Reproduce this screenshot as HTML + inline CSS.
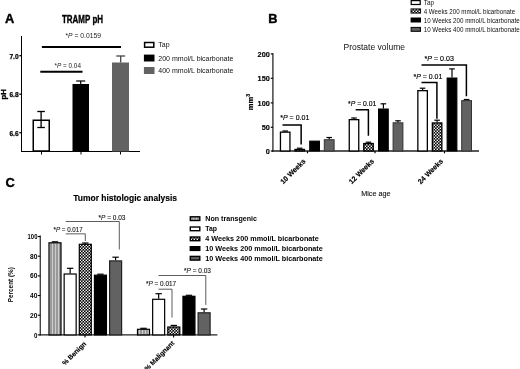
<!DOCTYPE html>
<html lang="en"><head><meta charset="utf-8"><title>Figure</title>
<style>html,body{margin:0;padding:0;background:#fff;}svg{display:block;}text{font-family:'Liberation Sans', Arial, sans-serif;}</style>
</head><body>
<svg width="520" height="369" viewBox="0 0 520 369">
<defs>
<pattern id="chk" width="3" height="3" patternUnits="userSpaceOnUse"><rect width="3" height="3" fill="#000"/><rect x="0.1" y="0.1" width="1.4" height="1.4" fill="#fff"/><rect x="1.6" y="1.6" width="1.4" height="1.4" fill="#fff"/></pattern>
<pattern id="vst" width="3" height="4" patternUnits="userSpaceOnUse"><rect width="3" height="4" fill="#999"/><rect x="1" y="0" width="1" height="4" fill="#ccc"/></pattern>
</defs>
<rect width="520" height="369" fill="#fff"/>
<text x="5" y="23.2" font-size="12.8" font-weight="bold" text-anchor="start" fill="#000" stroke="#000" stroke-width="0.4">A</text>
<text x="62" y="22.5" font-size="10.3" font-weight="bold" text-anchor="start" fill="#000" textLength="41" lengthAdjust="spacingAndGlyphs" stroke="#000" stroke-width="0.35">TRAMP pH</text>
<line x1="21.5" y1="36" x2="21.5" y2="152" stroke="#000" stroke-width="1"/>
<line x1="21" y1="151.5" x2="140" y2="151.5" stroke="#000" stroke-width="1.2"/>
<line x1="19.3" y1="55.7" x2="21.5" y2="55.7" stroke="#000" stroke-width="1.3"/>
<text x="18.6" y="58.6" font-size="7.8" font-weight="bold" text-anchor="end" fill="#000" textLength="9.2" lengthAdjust="spacingAndGlyphs" stroke="#000" stroke-width="0.25">7.0</text>
<line x1="19.3" y1="94.2" x2="21.5" y2="94.2" stroke="#000" stroke-width="1.3"/>
<text x="18.6" y="97.1" font-size="7.8" font-weight="bold" text-anchor="end" fill="#000" textLength="9.2" lengthAdjust="spacingAndGlyphs" stroke="#000" stroke-width="0.25">6.8</text>
<line x1="19.3" y1="132.7" x2="21.5" y2="132.7" stroke="#000" stroke-width="1.3"/>
<text x="18.6" y="135.6" font-size="7.8" font-weight="bold" text-anchor="end" fill="#000" textLength="9.2" lengthAdjust="spacingAndGlyphs" stroke="#000" stroke-width="0.25">6.6</text>
<line x1="41.5" y1="151.5" x2="41.5" y2="154.5" stroke="#000" stroke-width="1"/>
<line x1="81.0" y1="151.5" x2="81.0" y2="154.5" stroke="#000" stroke-width="1"/>
<line x1="120.5" y1="151.5" x2="120.5" y2="154.5" stroke="#000" stroke-width="1"/>
<text x="6" y="94.2" font-size="6.8" font-weight="bold" text-anchor="middle" fill="#000" textLength="10.4" lengthAdjust="spacingAndGlyphs" transform="rotate(-90 6 94.2)" stroke="#000" stroke-width="0.3">pH</text>
<rect x="33.25" y="120.25" width="16.0" height="30.75" fill="#fff" stroke="#000" stroke-width="1.5"/>
<line x1="41.1" y1="111.5" x2="41.1" y2="127.5" stroke="#000" stroke-width="1.3"/>
<line x1="37.300000000000004" y1="111.5" x2="44.9" y2="111.5" stroke="#000" stroke-width="1.3"/>
<line x1="37.300000000000004" y1="127.5" x2="44.9" y2="127.5" stroke="#000" stroke-width="1.3"/>
<rect x="73.0" y="84.5" width="15.5" height="66.5" fill="#000" stroke="#000" stroke-width="1"/>
<line x1="80.7" y1="81" x2="80.7" y2="84" stroke="#000" stroke-width="1.2"/>
<line x1="76.2" y1="81" x2="85.2" y2="81" stroke="#000" stroke-width="1.2"/>
<rect x="112.5" y="63.0" width="16" height="88.0" fill="#626262" stroke="#626262" stroke-width="1"/>
<g opacity="1">
<line x1="120.7" y1="56" x2="120.7" y2="62.5" stroke="#444" stroke-width="1.3"/>
<line x1="116.3" y1="56" x2="125.1" y2="56" stroke="#444" stroke-width="1.3"/>
</g>
<line x1="41.9" y1="46.9" x2="121" y2="46.9" stroke="#000" stroke-width="2"/>
<line x1="40.3" y1="71.7" x2="82.5" y2="71.7" stroke="#000" stroke-width="2"/>
<text x="65.5" y="38" font-size="6.3" fill="#222" textLength="35.5" lengthAdjust="spacingAndGlyphs">*<tspan font-style="italic">P</tspan> = 0.0159</text>
<text x="54.5" y="67.8" font-size="6.3" fill="#222" textLength="26.5" lengthAdjust="spacingAndGlyphs">*<tspan font-style="italic">P</tspan> = 0.04</text>
<rect x="144.6" y="42.5" width="9.2" height="4.7" fill="#fff" stroke="#000" stroke-width="1.5"/>
<rect x="143.9" y="54.6" width="10.6" height="6.9" fill="#000" stroke="#000" stroke-width="0"/>
<rect x="143.9" y="67" width="10.6" height="7" fill="#626262" stroke="#626262" stroke-width="0"/>
<text x="158.3" y="47.3" font-size="7" font-weight="normal" text-anchor="start" fill="#111" >Tap</text>
<text x="158.3" y="60.6" font-size="7" font-weight="normal" text-anchor="start" fill="#111" textLength="75" lengthAdjust="spacingAndGlyphs" >200 mmol/L bicarbonate</text>
<text x="158.3" y="73.2" font-size="7" font-weight="normal" text-anchor="start" fill="#111" textLength="75" lengthAdjust="spacingAndGlyphs" >400 mmol/L bicarbonate</text>
<text x="268.3" y="23.2" font-size="12.8" font-weight="bold" text-anchor="start" fill="#000" stroke="#000" stroke-width="0.4">B</text>
<text x="343.5" y="49.6" font-size="8.5" font-weight="normal" text-anchor="start" fill="#111" textLength="61.5" lengthAdjust="spacingAndGlyphs" >Prostate volume</text>
<line x1="272.9" y1="53.3" x2="272.9" y2="151.8" stroke="#444" stroke-width="1.5"/>
<line x1="272.2" y1="151" x2="479" y2="151" stroke="#222" stroke-width="1.5"/>
<line x1="270.8" y1="53.9" x2="272.9" y2="53.9" stroke="#000" stroke-width="1.2"/>
<text x="269.8" y="56.8" font-size="7.3" font-weight="bold" text-anchor="end" fill="#000" stroke="#000" stroke-width="0.15">200</text>
<line x1="270.8" y1="78.3" x2="272.9" y2="78.3" stroke="#000" stroke-width="1.2"/>
<text x="269.8" y="81.2" font-size="7.3" font-weight="bold" text-anchor="end" fill="#000" stroke="#000" stroke-width="0.15">150</text>
<line x1="270.8" y1="102.9" x2="272.9" y2="102.9" stroke="#000" stroke-width="1.2"/>
<text x="269.8" y="105.80000000000001" font-size="7.3" font-weight="bold" text-anchor="end" fill="#000" stroke="#000" stroke-width="0.15">100</text>
<line x1="270.8" y1="127.3" x2="272.9" y2="127.3" stroke="#000" stroke-width="1.2"/>
<text x="269.8" y="130.2" font-size="7.3" font-weight="bold" text-anchor="end" fill="#000" stroke="#000" stroke-width="0.15">50</text>
<line x1="270.8" y1="151" x2="272.9" y2="151" stroke="#000" stroke-width="1.2"/>
<text x="269.8" y="153.9" font-size="7.3" font-weight="bold" text-anchor="end" fill="#000" stroke="#000" stroke-width="0.15">0</text>
<text x="253" y="110.2" font-size="7.4" font-weight="bold" fill="#000" stroke="#000" stroke-width="0.2" transform="rotate(-90 253 110.2)" textLength="16.2" lengthAdjust="spacingAndGlyphs">mm<tspan font-size="5" dy="-2.8">3</tspan></text>
<line x1="307.5" y1="151" x2="307.5" y2="153.3" stroke="#000" stroke-width="1.2"/>
<line x1="375" y1="151" x2="375" y2="153.3" stroke="#000" stroke-width="1.2"/>
<line x1="444.5" y1="151" x2="444.5" y2="153.3" stroke="#000" stroke-width="1.2"/>
<rect x="280.45" y="132.15" width="9.50000000000001" height="18.85" fill="#fff" stroke="#000" stroke-width="1.3"/>
<line x1="285.2" y1="131" x2="285.2" y2="131.5" stroke="#000" stroke-width="1.2"/>
<line x1="282.4" y1="131" x2="288.0" y2="131" stroke="#000" stroke-width="1.2"/>
<rect x="294.95" y="149.45000000000002" width="9.50000000000001" height="1.5499999999999887" fill="url(#chk)" stroke="#000" stroke-width="1.3"/>
<line x1="299.7" y1="148.2" x2="299.7" y2="148.8" stroke="#000" stroke-width="1.2"/>
<line x1="296.9" y1="148.2" x2="302.5" y2="148.2" stroke="#000" stroke-width="1.2"/>
<rect x="309.7" y="141.1" width="9.800000000000011" height="9.900000000000006" fill="#000" stroke="#000" stroke-width="1"/>
<rect x="324.3" y="139.7" width="9.800000000000011" height="11.300000000000011" fill="#626262" stroke="#333" stroke-width="1"/>
<line x1="329.2" y1="137.5" x2="329.2" y2="139.2" stroke="#000" stroke-width="1.2"/>
<line x1="326.4" y1="137.5" x2="332.0" y2="137.5" stroke="#000" stroke-width="1.2"/>
<rect x="349.25" y="119.65" width="9.50000000000001" height="31.35" fill="#fff" stroke="#000" stroke-width="1.3"/>
<line x1="354.0" y1="118" x2="354.0" y2="119" stroke="#000" stroke-width="1.2"/>
<line x1="351.2" y1="118" x2="356.8" y2="118" stroke="#000" stroke-width="1.2"/>
<rect x="363.75" y="143.55" width="9.50000000000001" height="7.449999999999994" fill="url(#chk)" stroke="#000" stroke-width="1.3"/>
<line x1="368.5" y1="142.2" x2="368.5" y2="142.9" stroke="#000" stroke-width="1.2"/>
<line x1="365.7" y1="142.2" x2="371.3" y2="142.2" stroke="#000" stroke-width="1.2"/>
<rect x="378.5" y="109.0" width="9.800000000000011" height="42.0" fill="#000" stroke="#000" stroke-width="1"/>
<line x1="383.4" y1="103.8" x2="383.4" y2="108.5" stroke="#000" stroke-width="1.2"/>
<line x1="380.59999999999997" y1="103.8" x2="386.2" y2="103.8" stroke="#000" stroke-width="1.2"/>
<rect x="393.1" y="122.8" width="9.800000000000011" height="28.200000000000003" fill="#626262" stroke="#333" stroke-width="1"/>
<line x1="398.0" y1="120.8" x2="398.0" y2="122.3" stroke="#000" stroke-width="1.2"/>
<line x1="395.2" y1="120.8" x2="400.8" y2="120.8" stroke="#000" stroke-width="1.2"/>
<rect x="417.84999999999997" y="90.65" width="9.50000000000001" height="60.35" fill="#fff" stroke="#000" stroke-width="1.3"/>
<line x1="422.59999999999997" y1="88.2" x2="422.59999999999997" y2="90" stroke="#000" stroke-width="1.2"/>
<line x1="419.79999999999995" y1="88.2" x2="425.4" y2="88.2" stroke="#000" stroke-width="1.2"/>
<rect x="432.34999999999997" y="122.95" width="9.50000000000001" height="28.050000000000004" fill="url(#chk)" stroke="#000" stroke-width="1.3"/>
<line x1="437.09999999999997" y1="120.2" x2="437.09999999999997" y2="122.3" stroke="#000" stroke-width="1.2"/>
<line x1="434.29999999999995" y1="120.2" x2="439.9" y2="120.2" stroke="#000" stroke-width="1.2"/>
<rect x="447.09999999999997" y="78.0" width="9.800000000000011" height="73.0" fill="#000" stroke="#000" stroke-width="1"/>
<line x1="451.99999999999994" y1="68.9" x2="451.99999999999994" y2="77.5" stroke="#000" stroke-width="1.2"/>
<line x1="449.19999999999993" y1="68.9" x2="454.79999999999995" y2="68.9" stroke="#000" stroke-width="1.2"/>
<rect x="461.7" y="100.6" width="9.800000000000011" height="50.400000000000006" fill="#626262" stroke="#333" stroke-width="1"/>
<line x1="466.59999999999997" y1="99.5" x2="466.59999999999997" y2="100.1" stroke="#000" stroke-width="1.2"/>
<line x1="463.79999999999995" y1="99.5" x2="469.4" y2="99.5" stroke="#000" stroke-width="1.2"/>
<polyline points="282.5,124.9 282.5,124.9 301.15,124.9 301.15,144.5" fill="none" stroke="#000" stroke-width="1.5" stroke-linejoin="miter"/>
<text x="280.2" y="120.4" font-size="7.3" fill="#000" stroke="#000" stroke-width="0.15" textLength="29.2" lengthAdjust="spacingAndGlyphs">*<tspan font-style="italic">P</tspan> = 0.01</text>
<polyline points="355.7,109.8 355.7,109.8 368.4,109.8 368.4,135.8" fill="none" stroke="#000" stroke-width="1.5" stroke-linejoin="miter"/>
<text x="348.1" y="105.9" font-size="7.3" fill="#000" stroke="#000" stroke-width="0.15" textLength="28.2" lengthAdjust="spacingAndGlyphs">*<tspan font-style="italic">P</tspan> = 0.01</text>
<polyline points="421.5,82.5 421.5,82.5 436.9,82.5 436.9,118.7" fill="none" stroke="#000" stroke-width="1.5" stroke-linejoin="miter"/>
<text x="413.5" y="78.5" font-size="7.3" fill="#000" stroke="#000" stroke-width="0.15" textLength="28.8" lengthAdjust="spacingAndGlyphs">*<tspan font-style="italic">P</tspan> = 0.01</text>
<polyline points="421.5,65.1 421.5,65.1 466.4,65.1 466.4,96.3" fill="none" stroke="#000" stroke-width="1.5" stroke-linejoin="miter"/>
<text x="424.6" y="60.6" font-size="7.3" fill="#000" stroke="#000" stroke-width="0.15" textLength="29.3" lengthAdjust="spacingAndGlyphs">*<tspan font-style="italic">P</tspan> = 0.03</text>
<text x="306" y="161.8" font-size="7.1" font-weight="bold" text-anchor="end" fill="#000" transform="rotate(-45 306 161.8)" stroke="#000" stroke-width="0.15">10 Weeks</text>
<text x="374.5" y="161.8" font-size="7.1" font-weight="bold" text-anchor="end" fill="#000" transform="rotate(-45 374.5 161.8)" stroke="#000" stroke-width="0.15">12 Weeks</text>
<text x="443.5" y="161.8" font-size="7.1" font-weight="bold" text-anchor="end" fill="#000" transform="rotate(-45 443.5 161.8)" stroke="#000" stroke-width="0.15">24 Weeks</text>
<text x="361.2" y="195.8" font-size="7.4" font-weight="normal" text-anchor="start" fill="#111" textLength="29.3" lengthAdjust="spacingAndGlyphs" stroke="#111" stroke-width="0.12">Mice age</text>
<rect x="411.20000000000005" y="0.6" width="9" height="3.9" fill="#fff" stroke="#000" stroke-width="1.2"/>
<rect x="411.0" y="8.9" width="9.6" height="4.2" fill="url(#chk)" stroke="#000" stroke-width="0.9"/>
<rect x="410.6" y="17.5" width="10.4" height="5" fill="#000" stroke="#000" stroke-width="0"/>
<rect x="411.20000000000005" y="27.5" width="9.2" height="3.8" fill="#626262" stroke="#111" stroke-width="1.2"/>
<text x="423.7" y="5.1" font-size="6.4" font-weight="normal" text-anchor="start" fill="#111" >Tap</text>
<text x="423.7" y="13.6" font-size="6.4" font-weight="normal" text-anchor="start" fill="#111" textLength="91.5" lengthAdjust="spacingAndGlyphs" >4 Weeks 200 mmol/L bicarbonate</text>
<text x="423.7" y="22.5" font-size="6.4" font-weight="normal" text-anchor="start" fill="#111" textLength="96" lengthAdjust="spacingAndGlyphs" >10 Weeks 200 mmol/L bicarbonate</text>
<text x="423.7" y="31.7" font-size="6.4" font-weight="normal" text-anchor="start" fill="#111" textLength="96" lengthAdjust="spacingAndGlyphs" >10 Weeks 400 mmol/L bicarbonate</text>
<text x="5.6" y="186.7" font-size="12.8" font-weight="bold" text-anchor="start" fill="#000" stroke="#000" stroke-width="0.4">C</text>
<text x="73.3" y="201.3" font-size="8.2" font-weight="bold" text-anchor="start" fill="#000" textLength="103.7" lengthAdjust="spacingAndGlyphs" stroke="#000" stroke-width="0.15">Tumor histologic analysis</text>
<line x1="40.3" y1="235.6" x2="40.3" y2="335.5" stroke="#444" stroke-width="1.4"/>
<line x1="39.6" y1="334.9" x2="217.4" y2="334.9" stroke="#222" stroke-width="1.4"/>
<line x1="37.8" y1="334.9" x2="40.3" y2="334.9" stroke="#000" stroke-width="1.1"/>
<text x="37.4" y="337.5" font-size="6.9" font-weight="bold" text-anchor="end" fill="#000" textLength="3.4" lengthAdjust="spacingAndGlyphs" >0</text>
<line x1="37.8" y1="315.21999999999997" x2="40.3" y2="315.21999999999997" stroke="#000" stroke-width="1.1"/>
<text x="37.4" y="317.82" font-size="6.9" font-weight="bold" text-anchor="end" fill="#000" textLength="7.4" lengthAdjust="spacingAndGlyphs" >20</text>
<line x1="37.8" y1="295.53999999999996" x2="40.3" y2="295.53999999999996" stroke="#000" stroke-width="1.1"/>
<text x="37.4" y="298.14" font-size="6.9" font-weight="bold" text-anchor="end" fill="#000" textLength="7.4" lengthAdjust="spacingAndGlyphs" >40</text>
<line x1="37.8" y1="275.85999999999996" x2="40.3" y2="275.85999999999996" stroke="#000" stroke-width="1.1"/>
<text x="37.4" y="278.46" font-size="6.9" font-weight="bold" text-anchor="end" fill="#000" textLength="7.4" lengthAdjust="spacingAndGlyphs" >60</text>
<line x1="37.8" y1="256.17999999999995" x2="40.3" y2="256.17999999999995" stroke="#000" stroke-width="1.1"/>
<text x="37.4" y="258.78" font-size="6.9" font-weight="bold" text-anchor="end" fill="#000" textLength="7.4" lengthAdjust="spacingAndGlyphs" >80</text>
<line x1="37.8" y1="236.49999999999997" x2="40.3" y2="236.49999999999997" stroke="#000" stroke-width="1.1"/>
<text x="37.4" y="239.09999999999997" font-size="6.9" font-weight="bold" text-anchor="end" fill="#000" textLength="9.8" lengthAdjust="spacingAndGlyphs" >100</text>
<text x="13.2" y="284.7" font-size="6.3" font-weight="bold" text-anchor="middle" fill="#000" textLength="35" lengthAdjust="spacingAndGlyphs" transform="rotate(-90 13.2 284.7)" >Percent (%)</text>
<line x1="85" y1="334.9" x2="85" y2="337.4" stroke="#000" stroke-width="1.1"/>
<line x1="173.6" y1="334.9" x2="173.6" y2="337.4" stroke="#000" stroke-width="1.1"/>
<rect x="49.0" y="242.79999999999998" width="11.999999999999996" height="92.1" fill="url(#vst)" stroke="#000" stroke-width="1.2"/>
<line x1="55.0" y1="241.8" x2="55.0" y2="242.2" stroke="#000" stroke-width="1.2"/>
<line x1="51.8" y1="241.8" x2="58.2" y2="241.8" stroke="#000" stroke-width="1.2"/>
<rect x="64.14999999999999" y="274.0" width="12.000000000000004" height="60.9" fill="#fff" stroke="#000" stroke-width="1.2"/>
<line x1="70.14999999999999" y1="268.3" x2="70.14999999999999" y2="273.4" stroke="#000" stroke-width="1.2"/>
<line x1="66.94999999999999" y1="268.3" x2="73.35" y2="268.3" stroke="#000" stroke-width="1.2"/>
<rect x="79.3" y="244.29999999999998" width="12.000000000000004" height="90.6" fill="url(#chk)" stroke="#000" stroke-width="1.2"/>
<line x1="85.3" y1="243" x2="85.3" y2="243.7" stroke="#000" stroke-width="1.2"/>
<line x1="82.1" y1="243" x2="88.5" y2="243" stroke="#000" stroke-width="1.2"/>
<rect x="94.44999999999999" y="275.20000000000005" width="12.000000000000004" height="59.69999999999995" fill="#000" stroke="#000" stroke-width="1.2"/>
<line x1="100.44999999999999" y1="274.2" x2="100.44999999999999" y2="274.6" stroke="#000" stroke-width="1.2"/>
<line x1="97.24999999999999" y1="274.2" x2="103.64999999999999" y2="274.2" stroke="#000" stroke-width="1.2"/>
<rect x="109.6" y="260.90000000000003" width="12.000000000000004" height="73.99999999999997" fill="#626262" stroke="#222" stroke-width="1.2"/>
<line x1="115.6" y1="257.2" x2="115.6" y2="260.3" stroke="#000" stroke-width="1.2"/>
<line x1="112.39999999999999" y1="257.2" x2="118.8" y2="257.2" stroke="#000" stroke-width="1.2"/>
<rect x="137.5" y="329.3" width="11.99999999999999" height="5.599999999999989" fill="url(#vst)" stroke="#000" stroke-width="1.2"/>
<line x1="143.5" y1="328.3" x2="143.5" y2="328.7" stroke="#000" stroke-width="1.2"/>
<line x1="140.3" y1="328.3" x2="146.7" y2="328.3" stroke="#000" stroke-width="1.2"/>
<rect x="152.65" y="299.3" width="11.99999999999999" height="35.59999999999999" fill="#fff" stroke="#000" stroke-width="1.2"/>
<line x1="158.65" y1="293.7" x2="158.65" y2="298.7" stroke="#000" stroke-width="1.2"/>
<line x1="155.45000000000002" y1="293.7" x2="161.85" y2="293.7" stroke="#000" stroke-width="1.2"/>
<rect x="167.8" y="327.0" width="11.99999999999999" height="7.9" fill="url(#chk)" stroke="#000" stroke-width="1.2"/>
<line x1="173.8" y1="325.4" x2="173.8" y2="326.4" stroke="#000" stroke-width="1.2"/>
<line x1="170.60000000000002" y1="325.4" x2="177.0" y2="325.4" stroke="#000" stroke-width="1.2"/>
<rect x="182.95000000000002" y="296.3" width="11.99999999999999" height="38.59999999999999" fill="#000" stroke="#000" stroke-width="1.2"/>
<line x1="188.95000000000002" y1="295.3" x2="188.95000000000002" y2="295.7" stroke="#000" stroke-width="1.2"/>
<line x1="185.75000000000003" y1="295.3" x2="192.15" y2="295.3" stroke="#000" stroke-width="1.2"/>
<rect x="198.1" y="312.8" width="11.99999999999999" height="22.099999999999987" fill="#626262" stroke="#222" stroke-width="1.2"/>
<line x1="204.1" y1="309" x2="204.1" y2="312.2" stroke="#000" stroke-width="1.2"/>
<line x1="200.9" y1="309" x2="207.29999999999998" y2="309" stroke="#000" stroke-width="1.2"/>
<polyline points="65.8,233.85 85.3,233.85 85.3,241" fill="none" stroke="#333" stroke-width="0.8"/>
<polyline points="65.8,221.5 119.3,221.5 119.3,249.5" fill="none" stroke="#333" stroke-width="0.8"/>
<text x="53.5" y="232" font-size="6.6" fill="#111" stroke="#111" stroke-width="0.1" textLength="29.2" lengthAdjust="spacingAndGlyphs">*<tspan font-style="italic">P</tspan> = 0.017</text>
<text x="98.5" y="219.6" font-size="6.6" fill="#111" stroke="#111" stroke-width="0.1" textLength="27" lengthAdjust="spacingAndGlyphs">*<tspan font-style="italic">P</tspan> = 0.03</text>
<polyline points="158.5,289.2 172,289.2 172,317.5" fill="none" stroke="#333" stroke-width="0.8"/>
<polyline points="158.5,275.5 205.8,275.5 205.8,304.9" fill="none" stroke="#333" stroke-width="0.8"/>
<text x="145.9" y="286.2" font-size="6.6" fill="#111" stroke="#111" stroke-width="0.1" textLength="30.3" lengthAdjust="spacingAndGlyphs">*<tspan font-style="italic">P</tspan> = 0.017</text>
<text x="184" y="273" font-size="6.6" fill="#111" stroke="#111" stroke-width="0.1" textLength="27" lengthAdjust="spacingAndGlyphs">*<tspan font-style="italic">P</tspan> = 0.03</text>
<text x="86.6" y="344.3" font-size="6.7" font-weight="bold" text-anchor="end" fill="#000" transform="rotate(-45 86.6 344.3)" stroke="#000" stroke-width="0.15">% Benign</text>
<text x="174.8" y="343.6" font-size="6.7" font-weight="bold" text-anchor="end" fill="#000" transform="rotate(-45 174.8 343.6)" stroke="#000" stroke-width="0.15">% Malignant</text>
<rect x="190.3" y="216.79999999999998" width="9.5" height="3.7" fill="url(#vst)" stroke="#000" stroke-width="1.4"/>
<text x="205.3" y="220.9" font-size="7.2" font-weight="bold" text-anchor="start" fill="#000" textLength="51.7" lengthAdjust="spacingAndGlyphs" >Non transgenic</text>
<rect x="190.3" y="227.0" width="9.5" height="3.7" fill="#fff" stroke="#000" stroke-width="1.4"/>
<text x="205.3" y="231.10000000000002" font-size="7.2" font-weight="bold" text-anchor="start" fill="#000" textLength="11.8" lengthAdjust="spacingAndGlyphs" >Tap</text>
<rect x="190.3" y="237.0" width="9.5" height="3.7" fill="url(#chk)" stroke="#000" stroke-width="1.4"/>
<text x="205.3" y="241.10000000000002" font-size="7.2" font-weight="bold" text-anchor="start" fill="#000" textLength="113.5" lengthAdjust="spacingAndGlyphs" >4 Weeks 200 mmol/L bicarbonate</text>
<rect x="190.3" y="246.7" width="9.5" height="3.7" fill="#000" stroke="#000" stroke-width="1.4"/>
<text x="205.3" y="250.8" font-size="7.2" font-weight="bold" text-anchor="start" fill="#000" textLength="117.5" lengthAdjust="spacingAndGlyphs" >10 Weeks 200 mmol/L bicarbonate</text>
<rect x="190.3" y="256.4" width="9.5" height="3.7" fill="#626262" stroke="#000" stroke-width="1.4"/>
<text x="205.3" y="260.5" font-size="7.2" font-weight="bold" text-anchor="start" fill="#000" textLength="117.5" lengthAdjust="spacingAndGlyphs" >10 Weeks 400 mmol/L bicarbonate</text>
</svg>
</body></html>
